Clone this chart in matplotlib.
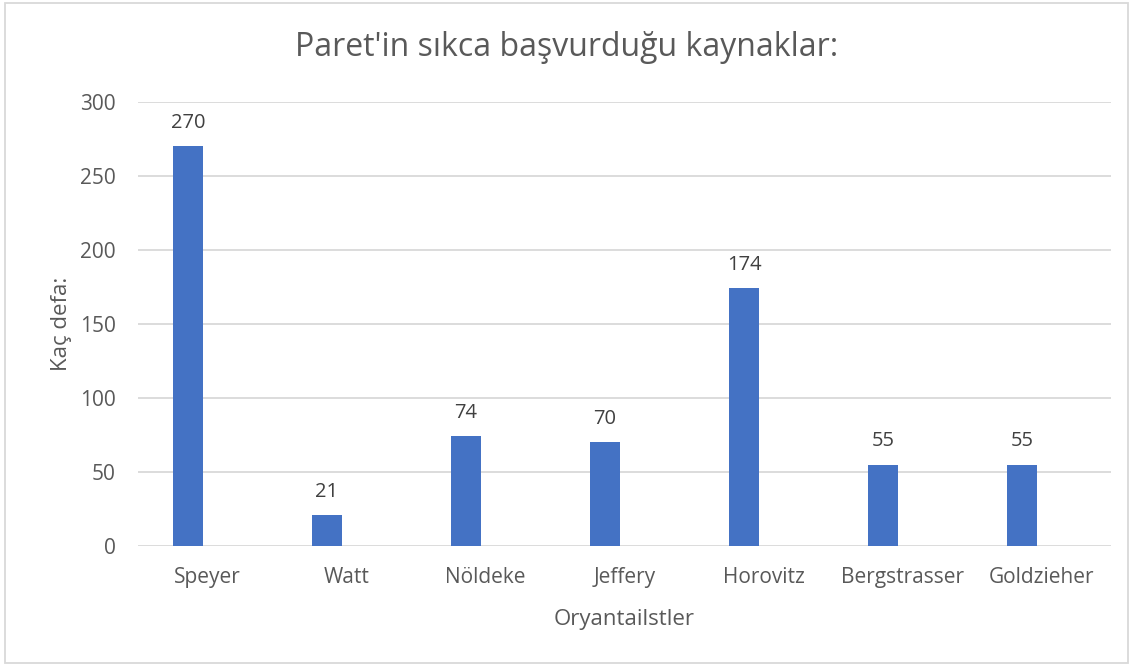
import matplotlib
matplotlib.use("Agg")
import matplotlib.pyplot as plt
from matplotlib.patches import Rectangle
import numpy as np

categories = ["Speyer", "Watt", "Nöldeke", "Jeffery", "Horovitz", "Bergstrasser", "Goldzieher"]
values = [270, 21, 74, 70, 174, 55, 55]
yticks = [0, 50, 100, 150, 200, 250, 300]
title = "Paret'in sıkca başvurduğu kaynaklar:"
xlabel = "Oryantailstler"
ylabel = "Kaç defa:"

plt.rcParams['font.family'] = ['Open Sans', 'DejaVu Sans']
text_color = "#595959"

W, H = 1134, 664
fig = plt.figure(figsize=(W / 100, H / 100), dpi=100)
ax = fig.add_axes([138 / W, 1 - 546 / H, (1111 - 138) / W, (546 - 102) / H])

x = np.arange(len(categories))
bars = ax.bar(x - 0.14, values, width=0.22, color="#4472C4", zorder=3)
for xi, v in zip(x, values):
    ax.annotate(str(v), (xi - 0.14, v), xytext=(0, 9.5), textcoords="offset points",
                ha="center", va="bottom", fontsize=14.5, color="#404040")

ax.set_xlim(-0.5, len(categories) - 0.5)
ax.set_ylim(0, 300)
ax.set_yticks(yticks)
ax.set_xticks(x)
ax.set_xticklabels(categories)
ax.tick_params(axis="both", length=0, labelsize=15, labelcolor=text_color)
ax.tick_params(axis="y", pad=16)
ax.tick_params(axis="x", pad=15)
ax.grid(axis="y", color="#D9D9D9", linewidth=1.3, zorder=0)
for s in ax.spines.values():
    s.set_visible(False)

ax.set_xlabel(xlabel, fontsize=16, color=text_color, labelpad=15)
ax.set_ylabel(ylabel, fontsize=16, color=text_color, labelpad=6)
fig.text(0.5, 1 - 47 / H, title, ha="center", va="center", fontsize=23, color=text_color)

fig.patches.append(Rectangle((5 / W, 1 / H), (1128 - 5) / W, (661 - 1) / H,
                             transform=fig.transFigure, fill=False,
                             edgecolor="#D9D9D9", linewidth=1.3))

fig.savefig("out.png", dpi=100)
